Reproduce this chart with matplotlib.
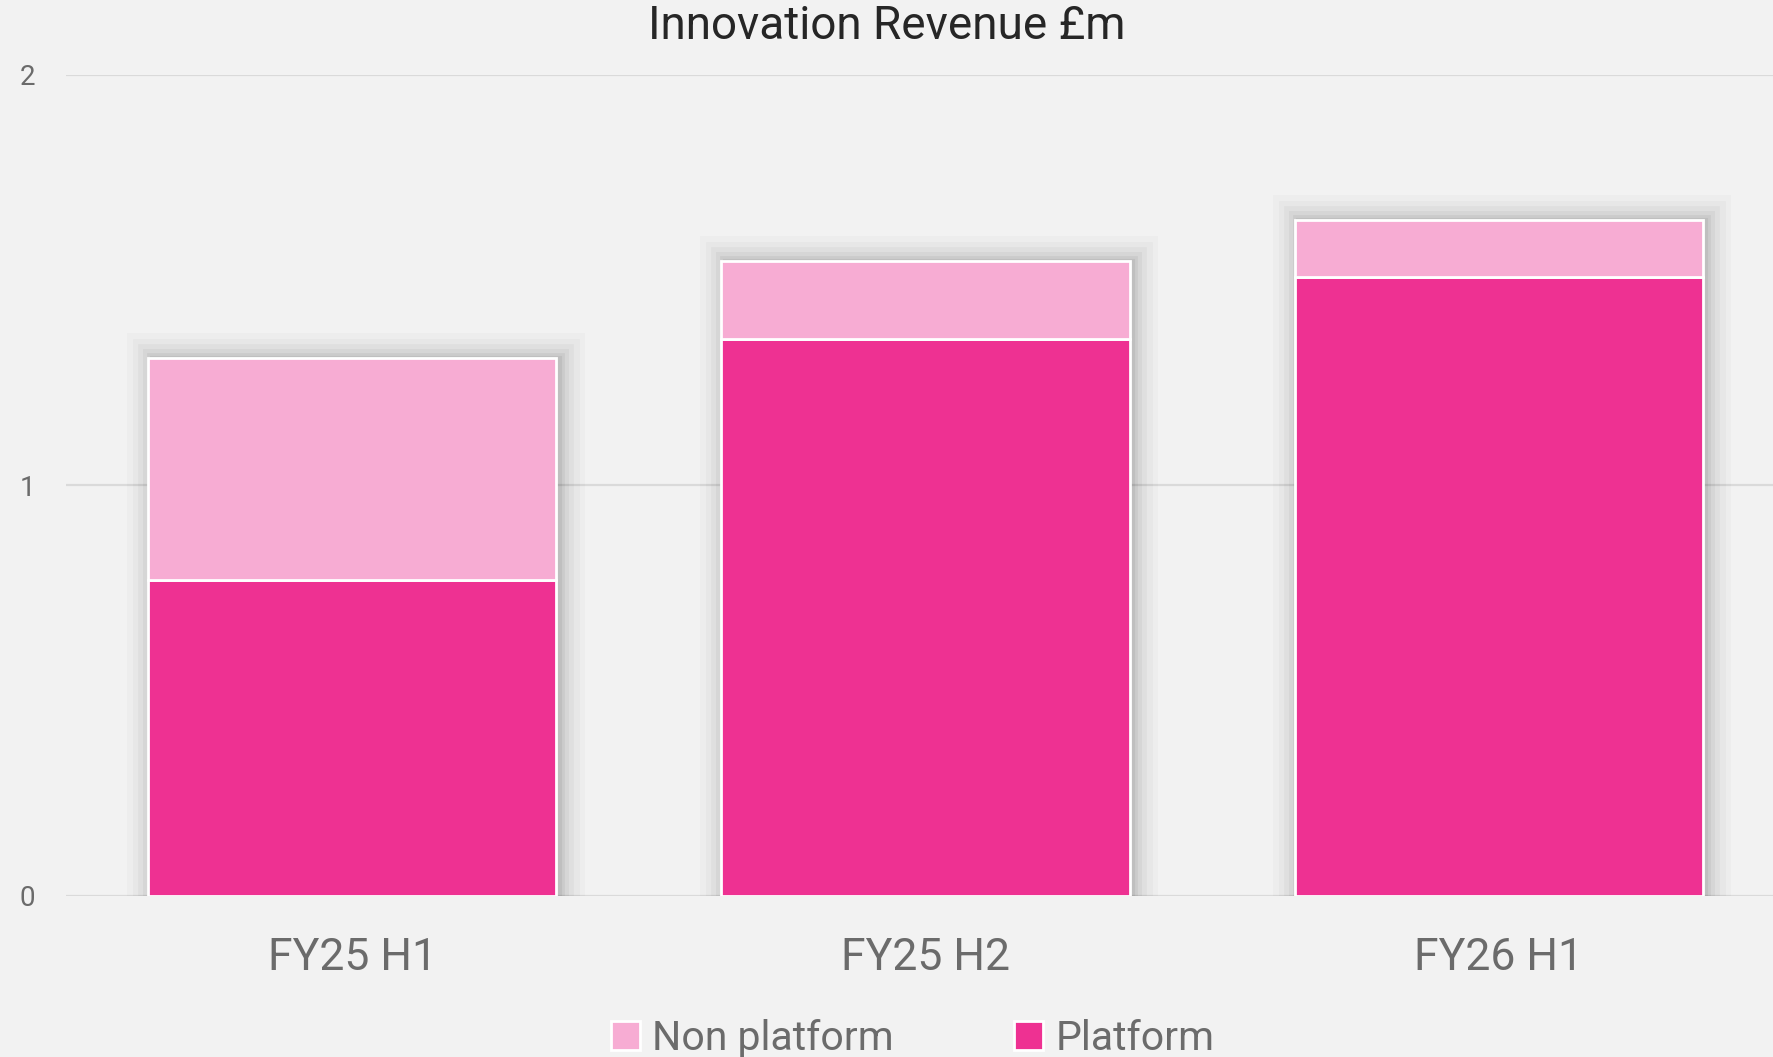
import matplotlib
matplotlib.use("Agg")
import matplotlib.pyplot as plt
import numpy as np

plt.rcParams['font.family'] = ['Roboto', 'DejaVu Sans']

periods = ['FY25 H1', 'FY25 H2', 'FY26 H1']
platform = [0.77, 1.355, 1.507]
non_platform = [0.54, 0.19, 0.14]

platform_color = '#EE3192'
non_platform_color = '#F7ACD3'
bg = '#F2F2F2'
grey_text = '#6B6B6B'

fig = plt.figure(figsize=(17.73, 10.57), dpi=100, facecolor=bg)
ax = fig.add_axes([0.037, 0.1527, 0.963, 0.7767], facecolor=bg)

x = np.arange(len(periods))
width = 0.712
totals = np.array(platform) + np.array(non_platform)

# soft shadow behind the stacked bars
for lw, a in [(36, 0.02), (28, 0.025), (20, 0.03), (13, 0.04), (7, 0.05), (3, 0.06)]:
    ax.bar(x + 0.006, totals, width, color='none', edgecolor=(0, 0, 0, a),
           linewidth=lw, joinstyle='miter', zorder=1)

ax.bar(x, platform, width, color=platform_color, edgecolor='white',
       linewidth=2, label='Platform', zorder=3)
ax.bar(x, non_platform, width, bottom=platform, color=non_platform_color,
       edgecolor='white', linewidth=2, label='Non platform', zorder=3)

ax.set_ylim(0, 2)
ax.set_xlim(-0.5, 2.478)
ax.set_yticks([0, 1, 2])
ax.set_yticklabels(['0', '1', '2'])
ax.grid(axis='y', color='#DADADA', linewidth=1.6, zorder=0)
ax.set_axisbelow(True)
for s in ax.spines.values():
    s.set_visible(False)
ax.tick_params(axis='y', length=0, pad=22, labelsize=20, labelcolor=grey_text)
ax.tick_params(axis='x', length=0, pad=30, labelsize=32, labelcolor=grey_text)
ax.set_xticks(x)
ax.set_xticklabels(periods)

fig.suptitle('Innovation Revenue £m', y=0.996, va='top', fontsize=33, color='#262626')

handles, labels = ax.get_legend_handles_labels()
leg = fig.legend(handles[::-1], labels[::-1], loc='lower center', ncol=2,
                 bbox_to_anchor=(0.5147, -0.036), frameon=False, fontsize=29.5,
                 handlelength=0.7, handleheight=0.7, handletextpad=0.3,
                 columnspacing=2.95, labelcolor=grey_text)

plt.savefig('out.png', dpi=100, facecolor=bg)
